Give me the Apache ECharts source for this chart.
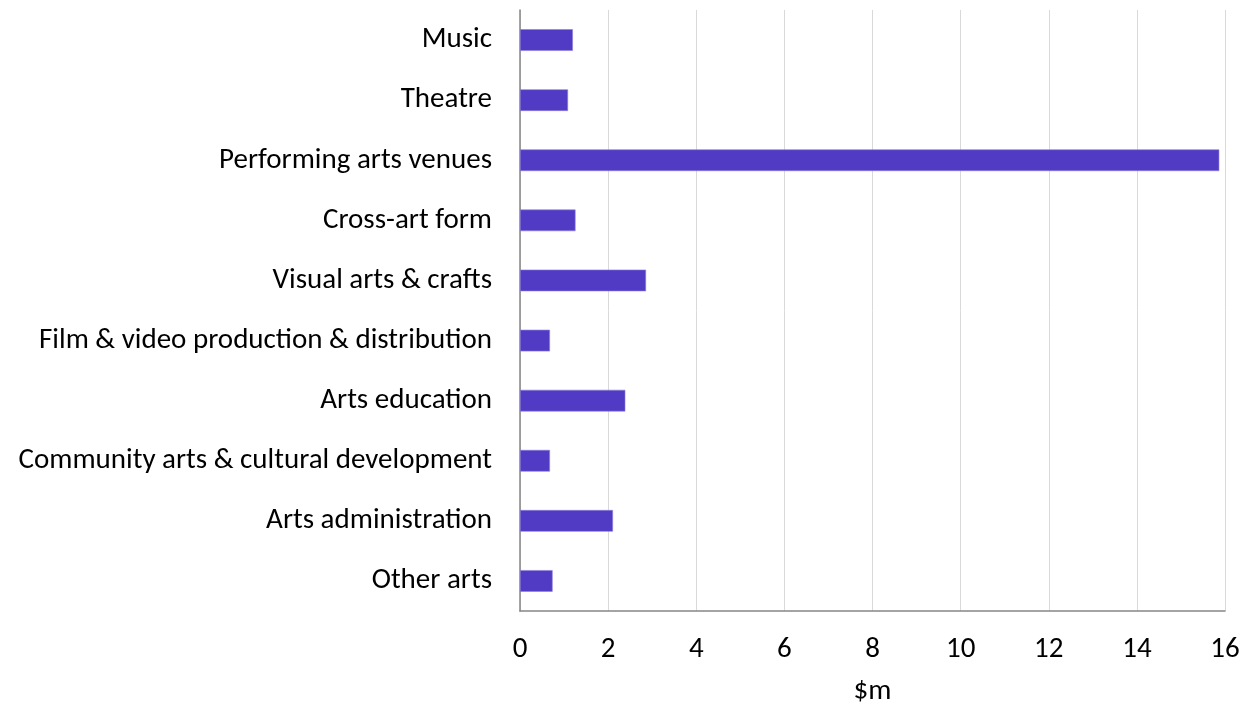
<!DOCTYPE html>
<html>
<head>
<meta charset="utf-8">
<script src="https://cdn.jsdelivr.net/npm/echarts@6/dist/echarts.min.js"></script>
<style>
  html, body { margin: 0; padding: 0; background: #fff; }
  #chart { width: 1255px; height: 710px; }
</style>
</head>
<body>
<div id="chart"></div>
<script>
// categories, top to bottom
var categories = [
  "Music",
  "Theatre",
  "Performing arts venues",
  "Cross-art form",
  "Visual arts & crafts",
  "Film & video production & distribution",
  "Arts education",
  "Community arts & cultural development",
  "Arts administration",
  "Other arts"
];
// spending, $m
var values = [1.20, 1.09, 15.87, 1.26, 2.86, 0.68, 2.39, 0.68, 2.11, 0.74];
var axisName = "$m";

var font = "Carlito, Lato, sans-serif";

var chart = echarts.init(document.getElementById("chart"));
chart.setOption({
  animation: false,
  grid: { left: 520, right: 30, top: 10, bottom: 99, outerBoundsMode: "none", containLabel: false },
  xAxis: {
    type: "value",
    min: 0,
    max: 16,
    interval: 2,
    name: axisName,
    nameLocation: "middle",
    nameGap: 66,
    nameTextStyle: { fontFamily: font, fontSize: 29, color: "#000" },
    axisLine: { show: true, lineStyle: { color: "#868686", width: 1.5 } },
    axisTick: { show: false },
    axisLabel: { fontFamily: font, fontSize: 29, color: "#000", margin: 24 },
    splitLine: { lineStyle: { color: "#d9d9d9", width: 1 } }
  },
  yAxis: {
    type: "category",
    data: categories,
    inverse: true,
    axisLine: { show: true, lineStyle: { color: "#868686", width: 1.5 } },
    axisTick: { show: false },
    axisLabel: { fontFamily: font, fontSize: 29, color: "#000", margin: 28 }
  },
  series: [{
    type: "bar",
    data: values,
    barWidth: "36%",
    itemStyle: { color: "#513bc4", borderColor: "#8c7fdc", borderWidth: 0.6 }
  }]
});
</script>
</body>
</html>
